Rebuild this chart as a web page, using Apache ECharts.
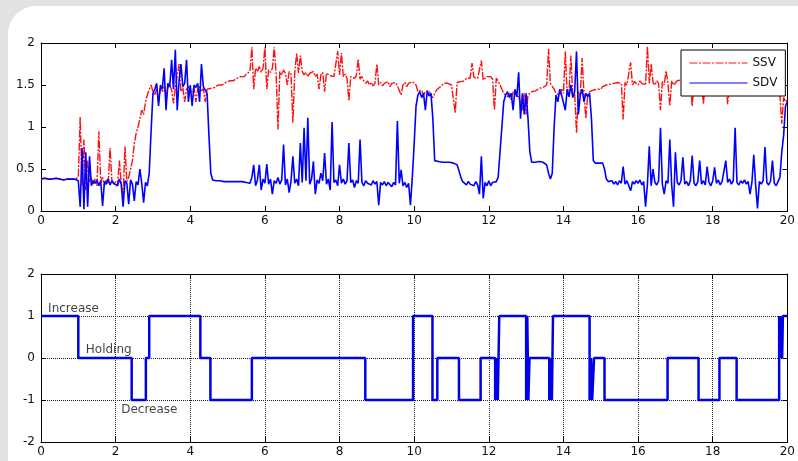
<!DOCTYPE html>
<html>
<head>
<meta charset="utf-8">
<script src="https://cdn.jsdelivr.net/npm/echarts@6/dist/echarts.min.js"></script>
<style>
  html, body { margin: 0; padding: 0; background: #e2e2e2; }
  #chart { width: 798px; height: 461px; }
</style>
</head>
<body>
<div id="chart"></div>
<script>
// sample spacing of both top-panel signals (seconds)
const dt = 0.05;

// SSv, one row per second (20 samples), last value at t = 20
const ssv = [
  0.38,0.38,0.39,0.38,0.38,0.37,0.38,0.38,0.39,0.38,0.38,0.38,0.37,0.38,0.38,0.39,0.38,0.38,0.38,0.38,
  0.40,1.12,0.30,0.85,0.25,0.60,0.35,0.40,0.32,0.38,0.30,0.95,0.35,0.40,0.30,0.38,0.33,0.75,0.36,0.32,
  0.35,0.30,0.60,0.33,0.15,0.77,0.35,0.40,0.50,0.60,0.80,0.93,1.00,1.10,1.20,1.15,1.30,1.38,1.45,1.50,
  1.42,1.38,1.45,1.30,1.46,1.42,1.48,1.35,1.46,1.50,1.44,1.28,1.47,1.45,1.75,1.42,1.47,1.30,1.45,1.48,
  1.45,1.42,1.47,1.30,1.45,1.48,1.42,1.46,1.30,1.45,1.47,1.46,1.48,1.47,1.49,1.50,1.51,1.50,1.52,1.53,
  1.54,1.55,1.56,1.55,1.57,1.58,1.59,1.60,1.61,1.60,1.63,1.64,1.66,1.95,1.45,1.70,1.66,1.72,1.65,1.70,
  1.95,1.45,1.68,1.65,1.70,1.95,1.64,0.97,1.66,1.62,1.68,1.64,1.50,1.66,1.63,1.05,1.65,1.88,1.64,1.85,
  1.66,1.62,1.65,1.60,1.64,1.62,1.66,1.60,1.63,1.45,1.62,1.65,1.42,1.64,1.62,1.61,1.63,1.60,1.62,1.90,
  1.62,1.88,1.60,1.63,1.58,1.31,1.60,1.62,1.58,1.61,1.81,1.57,1.60,1.55,1.52,1.55,1.50,1.53,1.49,1.52,
  1.75,1.50,1.53,1.49,1.52,1.50,1.54,1.48,1.52,1.50,1.53,1.49,1.51,1.38,1.50,1.53,1.48,1.52,1.50,1.54,
  1.55,1.50,1.42,1.40,1.44,1.38,1.42,1.40,1.43,1.38,1.35,1.40,1.44,1.46,1.48,1.50,1.52,1.50,1.52,1.53,
  1.50,1.52,1.17,1.53,1.55,1.54,1.56,1.55,1.58,1.56,1.58,1.76,1.59,1.57,1.58,1.58,1.79,1.56,1.58,1.60,
  1.58,1.60,1.57,1.20,1.58,1.55,1.50,1.45,1.40,1.38,1.36,1.40,1.32,1.42,1.38,1.40,1.36,1.38,1.20,1.40,
  1.15,1.38,1.40,1.42,1.44,1.43,1.45,1.46,1.48,1.47,1.49,1.50,1.93,1.52,1.50,1.45,1.40,1.42,1.38,1.45,
  1.40,1.90,1.38,1.42,1.85,1.36,1.40,0.93,1.42,1.38,1.82,1.40,1.10,1.38,1.42,1.40,1.44,1.42,1.45,1.47,
  1.45,1.48,1.46,1.50,1.48,1.51,1.50,1.52,1.50,1.53,1.51,1.52,1.09,1.53,1.50,1.52,1.77,1.50,1.54,1.52,
  1.50,1.55,1.52,1.54,1.50,1.96,1.52,1.75,1.53,1.50,1.55,1.52,1.20,1.54,1.50,1.67,1.52,1.25,1.55,1.50,
  1.52,1.55,1.53,1.56,1.54,1.57,1.55,1.52,1.56,1.25,1.55,1.57,1.54,1.56,1.53,1.27,1.55,1.58,1.54,1.56,
  1.55,1.57,1.54,1.56,1.53,1.55,1.57,1.54,1.27,1.56,1.54,1.57,1.55,1.53,1.56,1.54,1.57,1.55,1.53,1.56,
  1.55,1.53,1.56,1.54,1.57,1.55,1.52,1.56,1.54,1.57,1.55,1.53,1.56,1.54,1.50,1.45,1.38,1.04,1.35,1.30,
  1.32
];

// SDv, same layout
const sdv = [
  0.38,0.38,0.39,0.38,0.38,0.37,0.38,0.38,0.39,0.38,0.38,0.38,0.37,0.38,0.38,0.39,0.38,0.38,0.38,0.38,
  0.36,0.05,0.75,0.02,0.70,0.05,0.65,0.30,0.36,0.33,0.37,0.30,0.36,0.06,0.35,0.32,0.38,0.31,0.36,0.33,
  0.35,0.30,0.38,0.32,0.05,0.36,0.33,0.08,0.37,0.32,0.12,0.35,0.31,0.50,0.33,0.10,0.34,0.30,0.45,0.95,
  1.40,1.45,1.52,1.25,1.50,1.45,1.70,1.20,1.52,1.48,1.80,1.45,1.92,1.20,1.55,1.75,1.48,1.52,1.80,1.30,
  1.50,1.25,1.50,1.47,1.52,1.30,1.75,1.48,1.50,1.40,0.90,0.45,0.37,0.36,0.36,0.35,0.36,0.35,0.35,0.36,
  0.35,0.36,0.35,0.34,0.35,0.36,0.35,0.34,0.35,0.35,0.34,0.36,0.33,0.40,0.55,0.30,0.37,0.55,0.25,0.38,
  0.33,0.56,0.32,0.38,0.20,0.36,0.33,0.40,0.32,0.37,0.79,0.31,0.38,0.22,0.36,0.65,0.33,0.38,0.30,0.81,
  0.34,0.99,0.36,1.11,0.32,0.38,0.59,0.20,0.37,0.33,0.45,0.36,0.69,0.32,0.38,0.25,1.06,0.34,0.37,0.30,
  0.55,0.33,0.38,0.32,0.36,0.81,0.34,0.37,0.28,0.36,0.33,0.85,0.34,0.30,0.36,0.33,0.35,0.31,0.36,0.32,
  0.35,0.07,0.34,0.31,0.35,0.30,0.34,0.32,0.29,0.34,0.31,1.07,0.33,0.49,0.30,0.34,0.28,0.33,0.07,0.40,
  0.80,1.25,1.38,1.42,1.35,1.40,1.20,1.43,1.37,1.40,1.10,0.60,0.58,0.59,0.57,0.58,0.59,0.58,0.57,0.58,
  0.58,0.57,0.58,0.55,0.48,0.40,0.35,0.33,0.31,0.35,0.32,0.34,0.30,0.35,0.31,0.20,0.65,0.15,0.34,0.30,
  0.36,0.30,0.34,0.32,0.35,0.40,0.70,1.00,1.30,1.38,1.42,1.35,1.40,1.20,1.45,1.36,1.65,1.10,1.40,1.15,
  1.40,1.10,0.70,0.58,0.57,0.58,0.57,0.59,0.57,0.58,0.56,0.55,0.45,0.38,0.45,1.00,1.38,1.30,1.45,1.38,
  1.40,1.20,1.45,1.36,1.50,1.35,1.42,1.90,1.15,1.38,1.45,1.30,1.40,1.36,1.40,1.10,0.60,0.57,0.58,0.57,
  0.58,0.57,0.50,0.38,0.35,0.33,0.36,0.32,0.35,0.31,0.36,0.33,0.53,0.32,0.36,0.30,0.24,0.35,0.32,0.36,
  0.33,0.37,0.31,0.35,0.05,0.32,0.77,0.30,0.50,0.34,0.31,0.36,0.99,0.32,0.20,0.36,0.33,0.85,0.31,0.05,
  0.70,0.34,0.31,0.36,0.64,0.32,0.35,0.30,0.36,0.66,0.33,0.30,0.35,0.60,0.32,0.36,0.31,0.53,0.34,0.30,
  0.36,0.52,0.33,0.37,0.31,0.35,0.33,0.60,0.34,0.38,0.32,0.36,0.99,0.34,0.31,0.36,0.33,0.37,0.32,0.35,
  0.20,0.34,0.67,0.31,0.03,0.35,0.32,0.36,0.76,0.34,0.31,0.36,0.60,0.33,0.30,0.35,0.40,0.70,0.90,1.25,
  1.30
];

// bottom panel: state switches (time, new state)
const stateTimes = [0, 1.0, 2.43, 2.81, 2.9, 4.27, 4.54, 5.65, 8.69, 9.97, 10.49, 10.62, 11.2, 11.78,
  12.17, 12.21, 12.24, 12.28, 13.0, 13.03, 13.06, 13.09, 13.62, 13.66, 13.69, 13.72,
  14.7, 14.74, 14.77, 14.82, 15.1, 16.79, 17.62, 18.18, 18.64, 19.78, 19.8, 19.83, 19.86, 19.88, 20];
const stateValues = [1, 0, -1, 0, 1, 0, -1, 0, -1, 1, -1, 0, -1, 0,
  -1, 0, -1, 1, -1, 1, -1, 0, -1, 0, -1, 1,
  -1, 0, -1, 0, -1, 0, -1, 0, -1, 1, 0, 1, 0, 1, 1];

const stateNames = ['Increase', 'Holding', 'Decrease'];
const stateNameX = [0.19, 1.2, 2.15];
const stateNameY = [1.17, 0.19, -1.24];

const font = 'DejaVu Sans';
const chart = echarts.init(document.getElementById('chart'));

function xAx(grid, top, grid_on) {
  return {
    type: 'value', gridIndex: grid, min: 0, max: 20, interval: 2,
    position: top ? 'top' : 'bottom',
    axisLine: { onZero: false, lineStyle: { color: '#000', width: 1 } },
    axisTick: { inside: true, length: 5, lineStyle: { color: '#000' } },
    axisLabel: { show: !top, margin: 4, color: '#111', fontSize: 12, fontFamily: font },
    splitLine: { show: !!grid_on, lineStyle: { type: 'dotted', color: '#222', width: 1 } }
  };
}
function yAx(grid, right, min, max, step, grid_on) {
  return {
    type: 'value', gridIndex: grid, min: min, max: max, interval: step,
    position: right ? 'right' : 'left',
    axisLine: { show: true, onZero: false, lineStyle: { color: '#000', width: 1 } },
    axisTick: { show: true, inside: true, length: 5, lineStyle: { color: '#000' } },
    axisLabel: { show: !right, margin: 6, color: '#111', fontSize: 12, fontFamily: font },
    splitLine: { show: !!grid_on, lineStyle: { type: 'dotted', color: '#222', width: 1 } }
  };
}

const option = {
  animation: false,
  graphic: [{
    type: 'rect', left: 8, top: 6, z: -10, silent: true,
    shape: { width: 800, height: 470, r: [28, 0, 0, 0] },
    style: { fill: '#fff' }
  }],
  legend: {
    data: ['SSV', 'SDV'],
    orient: 'vertical', left: 681, top: 50,
    itemWidth: 58, itemHeight: 10, itemGap: 8,
    padding: [7, 8, 7, 8],
    backgroundColor: '#fff', borderColor: '#000', borderWidth: 1, borderRadius: 0,
    itemStyle: { color: 'rgba(0,0,0,0)', borderWidth: 0, opacity: 0 },
    lineStyle: { width: 1 },
    textStyle: { fontSize: 12, color: '#111', fontFamily: font }
  },
  grid: [
    { left: 41, right: 7, top: 43, height: 168 },
    { left: 41, right: 7, top: 274, height: 168 }
  ],
  xAxis: [xAx(0, false), xAx(0, true), xAx(1, false, true), xAx(1, true)],
  yAxis: [yAx(0, false, 0, 2, 0.5), yAx(0, true, 0, 2, 0.5),
          yAx(1, false, -2, 2, 1, true), yAx(1, true, -2, 2, 1)],
  series: [
    {
      name: 'SSV', type: 'line', xAxisIndex: 0, yAxisIndex: 0, symbol: 'none',
      data: ssv.map((v, i) => [+(i * dt).toFixed(2), v]),
      lineStyle: { color: '#ff1010', width: 1.4, type: [8, 1.5, 2, 1.5] },
      itemStyle: { color: '#ff1010' }
    },
    {
      name: 'SDV', type: 'line', xAxisIndex: 0, yAxisIndex: 0, symbol: 'none',
      data: sdv.map((v, i) => [+(i * dt).toFixed(2), v]),
      lineStyle: { color: '#0000ff', width: 1.6 },
      itemStyle: { color: '#0000ff' }
    },
    {
      name: 'state', type: 'line', xAxisIndex: 2, yAxisIndex: 2, symbol: 'none', step: 'end',
      data: stateTimes.map((t, i) => [t, stateValues[i]]),
      lineStyle: { color: '#0000e8', width: 2.5 }
    },
    {
      name: 'names', type: 'scatter', xAxisIndex: 2, yAxisIndex: 2, symbolSize: 0,
      data: stateNames.map((n, i) => [stateNameX[i], stateNameY[i], n]),
      label: {
        show: true, position: 'right', distance: 0,
        formatter: p => p.data[2],
        color: '#111', fontSize: 12, fontFamily: font
      }
    }
  ]
};
chart.setOption(option);
</script>
</body>
</html>
